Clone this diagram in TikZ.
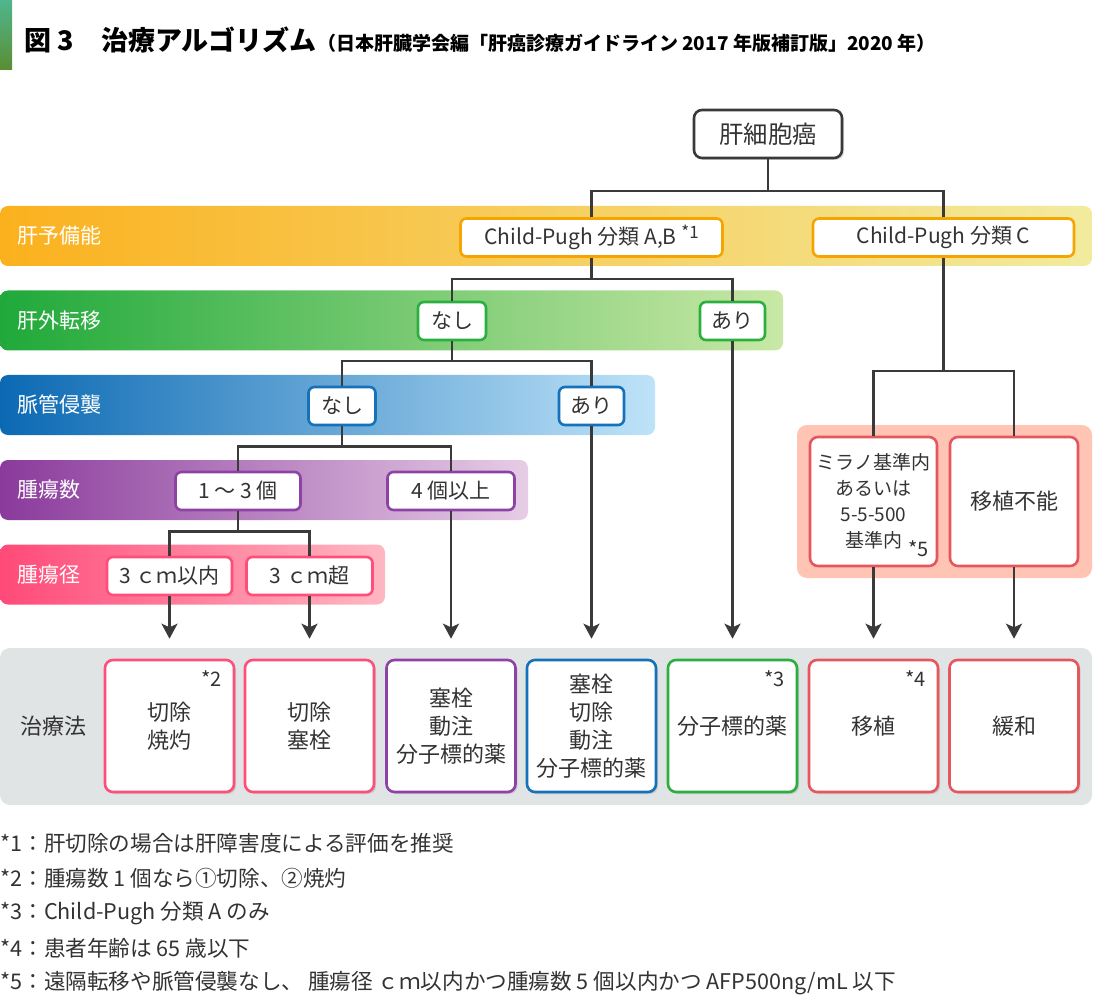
\documentclass[tikz,border=0pt]{standalone}
\usepackage{fontspec}
\setmainfont{Noto Sans CJK JP}
\usetikzlibrary{arrows.meta,calc,positioning,shadows}
\definecolor{HCink}{HTML}{333333}
\definecolor{HCline}{HTML}{3A3A3A}
\definecolor{HCbarA}{HTML}{4FB68E}
\definecolor{HCbarB}{HTML}{5A8E32}
\definecolor{HCorange}{HTML}{F6A400}
\definecolor{HCorangeA}{HTML}{FBB11E}
\definecolor{HCorangeB}{HTML}{F2EB9E}
\definecolor{HCgreen}{HTML}{2BAF3E}
\definecolor{HCgreenA}{HTML}{20A93A}
\definecolor{HCgreenB}{HTML}{C9E8A6}
\definecolor{HCblue}{HTML}{1571B9}
\definecolor{HCblueA}{HTML}{0B69B3}
\definecolor{HCblueB}{HTML}{BEE3F8}
\definecolor{HCpurple}{HTML}{8E42A6}
\definecolor{HCpurpleA}{HTML}{8A3A9C}
\definecolor{HCpurpleB}{HTML}{E6CDE5}
\definecolor{HCpink}{HTML}{FF4E7A}
\definecolor{HCpinkA}{HTML}{FF4A78}
\definecolor{HCpinkB}{HTML}{FFB7C2}
\definecolor{HCred}{HTML}{E5575C}
\definecolor{HCsalmon}{HTML}{FFC4B3}
\definecolor{HCgray}{HTML}{E1E4E5}

\begin{document}
\begin{tikzpicture}[
  x=0.5pt,y=-0.5pt,
  font=\fontsize{10.5}{13}\selectfont,
  link/.style={draw=HCline,line width=1.2pt},
  arr/.style={link,-{Stealth[length=7.5pt,width=8pt,inset=1.8pt]},shorten >=10pt},
  band/.style={rounded corners=4pt,inner sep=0pt,minimum height=30pt},
  bandlabel/.style={text=white,inner sep=0pt,font=\fontsize{10.5}{12}\selectfont},
  choice/.style={draw=#1,fill=white,line width=1.3pt,rounded corners=3pt,
    minimum height=19pt,inner sep=0pt,text=HCink},
  therapy/.style={draw=#1,fill=white,line width=1.3pt,rounded corners=4pt,
    minimum width=64.5pt,minimum height=66pt,inner sep=0pt,align=center,text=HCink,
    font=\fontsize{11}{14}\selectfont,
    drop shadow={shadow xshift=1pt,shadow yshift=-1pt,opacity=0.25}},
  starnote/.style={inner sep=0pt,text=HCink,font=\fontsize{10}{11}\selectfont},
  fnline/.style={anchor=west,inner sep=0pt,text=HCink,font=\fontsize{10.8}{12}\selectfont}
]
\useasboundingbox (0,0) rectangle (1093,1000);

% Title
\node[inner sep=0pt,minimum width=6pt,minimum height=35pt,
  top color=HCbarA,bottom color=HCbarB] (titlebar) at (6,35) {};
\node[anchor=west,inner sep=0pt,font=\bfseries\fontsize{13.5}{15}\selectfont]
  (title) at (24,40) {図 3　治療アルゴリズム};
\node[anchor=base west,inner sep=0pt,font=\bfseries\fontsize{9.5}{11}\selectfont]
  (subtitle) at (title.base east) {（日本肝臓学会編「肝癌診療ガイドライン 2017 年版補訂版」2020 年）};

% Bands
\node[band,left color=HCorangeA,right color=HCorangeB,minimum width=546pt] (band1) at (546,236) {};
\node[band,left color=HCgreenA,right color=HCgreenB,minimum width=391.5pt] (band2) at (391.5,320.5) {};
\node[band,left color=HCblueA,right color=HCblueB,minimum width=327.5pt] (band3) at (327.5,405) {};
\node[band,left color=HCpurpleA,right color=HCpurpleB,minimum width=264pt] (band4) at (264,490) {};
\node[band,left color=HCpinkA,right color=HCpinkB,minimum width=192.5pt] (band5) at (192.5,574.5) {};
\node[bandlabel,right=9pt of band1.west] {肝予備能};
\node[bandlabel,right=9pt of band2.west] {肝外転移};
\node[bandlabel,right=9pt of band3.west] {脈管侵襲};
\node[bandlabel,right=9pt of band4.west] {腫瘍数};
\node[bandlabel,right=9pt of band5.west] {腫瘍径};

\node[fill=HCsalmon,rounded corners=5pt,inner sep=0pt,minimum width=147.5pt,
  minimum height=76.5pt] (panel) at (944.5,501.5) {};
\node[fill=HCgray,rounded corners=5pt,inner sep=0pt,minimum width=546pt,
  minimum height=78.5pt] (treatband) at (546,726.5) {};
\node[right=10pt of treatband.west,inner sep=0pt,text=HCink,
  font=\fontsize{11}{13}\selectfont] (tlabel) {治療法};

% Decision nodes
\node[choice=HCline,minimum width=74pt,minimum height=24pt,rounded corners=4pt,
  font=\fontsize{12.2}{14}\selectfont,
  drop shadow={shadow xshift=1pt,shadow yshift=-1pt,opacity=0.25}] (liver) at (768,134) {肝細胞癌};
\node[choice=HCorange,minimum width=131pt] (cpab) at (591.5,237.5)
  {Child-Pugh 分類 A,B \raisebox{0.55ex}{\fontsize{8.5}{9}\selectfont *1}};
\node[choice=HCorange,minimum width=130.5pt] (cpc) at (943.5,237.5) {Child-Pugh 分類 C};
\node[choice=HCgreen,minimum width=34pt] (exno) at (452,321) {なし};
\node[choice=HCgreen,minimum width=32.5pt] (exyes) at (732.5,321) {あり};
\node[choice=HCblue,minimum width=33.5pt] (vsno) at (342,406) {なし};
\node[choice=HCblue,minimum width=32.5pt] (vsyes) at (591.5,406) {あり};
\node[choice=HCpurple,minimum width=62.5pt] (cnt13) at (238,491) {1 〜 3 個};
\node[choice=HCpurple,minimum width=63.5pt] (cnt4) at (451,491) {4 個以上};
\node[choice=HCpink,minimum width=62.5pt] (sz3in) at (169.5,576) {3 ｃｍ以内};
\node[choice=HCpink,minimum width=63pt] (sz3out) at (309.5,576) {3 ｃｍ超};
\node[choice=HCred,minimum width=63.5pt,minimum height=64.5pt,rounded corners=4pt,
  align=center,font=\fontsize{9.5}{13}\selectfont] (milan) at (873.5,501.5)
  {ミラノ基準内\\あるいは\\5-5-500\\基準内};
\node[starnote,above left=5pt and 4.5pt of milan.south east] {*5};
\node[choice=HCred,minimum width=64pt,minimum height=64.5pt,rounded corners=4pt,
  font=\fontsize{11}{13}\selectfont] (notx) at (1014,501.5) {移植不能};

% Treatments
\node[therapy=HCpink] (t1) at (169.5,726) {切除\\焼灼};
\node[therapy=HCpink] (t2) at (309.5,726) {切除\\塞栓};
\node[therapy=HCpurple] (t3) at (451,726) {塞栓\\動注\\分子標的薬};
\node[therapy=HCblue] (t4) at (591.5,726) {塞栓\\切除\\動注\\分子標的薬};
\node[therapy=HCgreen] (t5) at (732.5,726) {分子標的薬};
\node[therapy=HCred] (t6) at (873.5,726) {移植};
\node[therapy=HCred] (t7) at (1014,726) {緩和};
\node[starnote,below left=5.5pt and 6.5pt of t1.north east] {*2};
\node[starnote,below left=5.5pt and 6.5pt of t5.north east] {*3};
\node[starnote,below left=5.5pt and 6.5pt of t6.north east] {*4};

% Tree
\draw[link] (liver.south) -- ++(0,32) -| (cpab.north);
\draw[link] (liver.south) -- ++(0,32) -| (cpc.north);
\draw[link] (cpab.south) -- ++(0,21) -| (exno.north);
\draw[link] (cpab.south) -- ++(0,21) -| (exyes.north);
\draw[link] (exno.south) -- ++(0,20) -| (vsno.north);
\draw[link] (exno.south) -- ++(0,20) -| (vsyes.north);
\draw[link] (vsno.south) -- ++(0,20) -| (cnt13.north);
\draw[link] (vsno.south) -- ++(0,20) -| (cnt4.north);
\draw[link] (cnt13.south) -- ++(0,20) -| (sz3in.north);
\draw[link] (cnt13.south) -- ++(0,20) -| (sz3out.north);
\draw[link] (cpc.south) -- ++(0,113) -| (milan.north);
\draw[link] (cpc.south) -- ++(0,113) -| (notx.north);

\draw[arr] (sz3in.south) -- (t1.north);
\draw[arr] (sz3out.south) -- (t2.north);
\draw[arr] (cnt4.south) -- (t3.north);
\draw[arr] (vsyes.south) -- (t4.north);
\draw[arr] (exyes.south) -- (t5.north);
\draw[arr] (milan.south) -- (t6.north);
\draw[arr] (notx.south) -- (t7.north);

% Footnotes
\node[fnline] (fn1) at (0,843) {*1：肝切除の場合は肝障害度による評価を推奨};
\node[fnline] (fn2) at (0,878) {*2：腫瘍数 1 個なら①切除、②焼灼};
\node[fnline] (fn3) at (0,913) {*3：Child-Pugh 分類 A のみ};
\node[fnline] (fn4) at (0,948) {*4：患者年齢は 65 歳以下};
\node[fnline] (fn5) at (0,983) {*5：遠隔転移や脈管侵襲なし、 腫瘍径 ｃｍ以内かつ腫瘍数 5 個以内かつ AFP500ng/mL 以下};
\end{tikzpicture}
\end{document}
